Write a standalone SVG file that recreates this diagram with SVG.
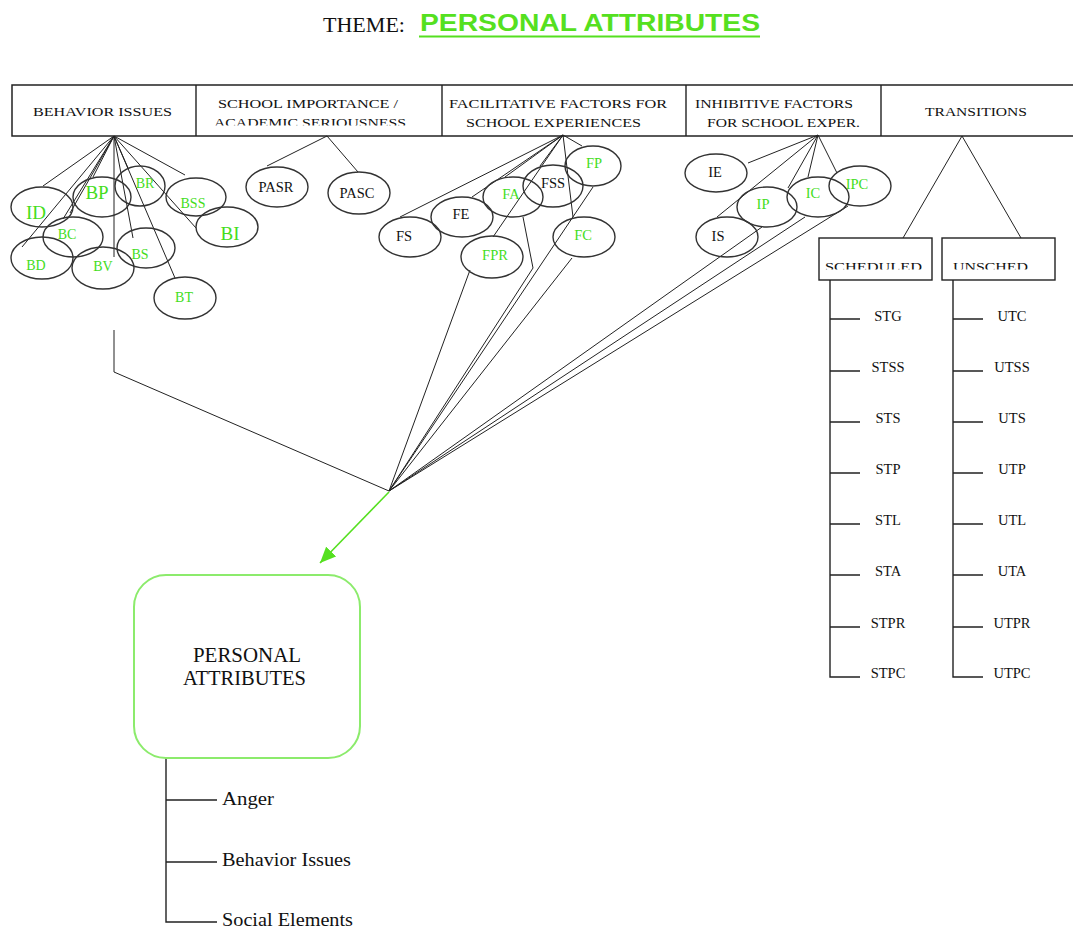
<svg xmlns="http://www.w3.org/2000/svg" width="1073" height="928" viewBox="0 0 1073 928">
<style>
.t{font-family:"Liberation Serif","Times New Roman",serif;fill:#111}
.h{font-size:13.5px}
.g{fill:#44dd1c}
.k{fill:#111}
.s{font-size:14.5px}
.m{font-size:14px}
.L{font-size:19px}
.e{fill:none;stroke:#333;stroke-width:1.4}
.ln{stroke:#222;stroke-width:1;fill:none}
.tr{stroke:#222;stroke-width:1.4;fill:none}
</style>
<defs>
<clipPath id="c1"><rect x="190" y="110" width="260" height="15.5"/></clipPath>
<clipPath id="c2"><rect x="815" y="250" width="250" height="19.5"/></clipPath>
<marker id="gb" viewBox="0 0 16 14" markerWidth="16" markerHeight="14" refX="16" refY="7" orient="auto" markerUnits="userSpaceOnUse"><path d="M0,0 L16,7 L0,14 z" fill="#55e020"/></marker>
</defs>
<rect width="1073" height="928" fill="#fff"/>

<g id="title">
<text class="t" x="323" y="32" font-size="20" textLength="82" lengthAdjust="spacingAndGlyphs">THEME:</text>
<text x="420" y="31" font-family="'Liberation Sans',Arial,sans-serif" font-weight="bold" font-size="24" fill="#55e020" textLength="340" lengthAdjust="spacingAndGlyphs">PERSONAL ATTRIBUTES</text>
<line x1="419" y1="36.5" x2="760" y2="36.5" stroke="#55e020" stroke-width="2"/>
</g>

<g id="header">
<rect x="12" y="85" width="1070" height="51" fill="none" stroke="#222" stroke-width="1.5"/>
<line x1="196" y1="85" x2="196" y2="136" class="tr"/>
<line x1="442" y1="85" x2="442" y2="136" class="tr"/>
<line x1="686" y1="85" x2="686" y2="136" class="tr"/>
<line x1="881" y1="85" x2="881" y2="136" class="tr"/>
<text class="t h" x="33" y="116" textLength="139" lengthAdjust="spacingAndGlyphs">BEHAVIOR ISSUES</text>
<text class="t h" x="218" y="108" textLength="180" lengthAdjust="spacingAndGlyphs">SCHOOL IMPORTANCE /</text>
<text class="t h" x="214" y="127" textLength="192" lengthAdjust="spacingAndGlyphs" clip-path="url(#c1)">ACADEMIC SERIOUSNESS</text>
<text class="t h" x="449" y="108" textLength="218" lengthAdjust="spacingAndGlyphs">FACILITATIVE FACTORS FOR</text>
<text class="t h" x="466" y="127" textLength="175" lengthAdjust="spacingAndGlyphs">SCHOOL EXPERIENCES</text>
<text class="t h" x="695" y="108" textLength="158" lengthAdjust="spacingAndGlyphs">INHIBITIVE FACTORS</text>
<text class="t h" x="707" y="127" textLength="153" lengthAdjust="spacingAndGlyphs">FOR SCHOOL EXPER.</text>
<text class="t h" x="925" y="116" textLength="102" lengthAdjust="spacingAndGlyphs">TRANSITIONS</text>
</g>

<g id="connectors">
<path class="ln" d="M114,136 L43,186 M114,136 L22,247 M114,136 L63,219 M114,136 L70,213 M114,136 L93,177 M114,136 L114,257 M114,136 L128,168 M114,136 L133,238 M114,136 L175,278 M114,136 L185,175 M114,136 L196,228"/>
<path class="ln" d="M327,136 L267,166 M327,136 L358,172"/>
<path class="ln" d="M563,135 L400,217 M563,135 L472,197 M563,135 L505,177 M563,135 L493,237 M563,135 L540,166 M563,135 L573,217 M563,135 L582,146"/>
<path class="ln" d="M818,135 L748,163 M818,135 L717,217 M818,135 L788,188 M818,135 L808,177 M818,135 L837,173"/>
<path class="ln" d="M962,136 L903,238 M962,136 L1021,238"/>
<path class="ln" d="M114,330 L114,372 L389,491"/>
<path class="ln" d="M470,270 L389,491 M523,217 L533,268 L389,491 M593,187 L389,491 M572,258 L389,491"/>
<path class="ln" d="M762,227 L389,491 M805,217 L389,491 M848,206 L389,491"/>
<line x1="389" y1="492" x2="320" y2="563" stroke="#55e020" stroke-width="1.6" marker-end="url(#gb)"/>
<path class="tr" d="M830,280 L830,677 L860,677 M830,319 L860,319 M830,371 L860,371 M830,422 L860,422 M830,473 L860,473 M830,524 L860,524 M830,575 L860,575 M830,627 L860,627"/>
<path class="tr" d="M953,280 L953,677 L983,677 M953,319 L983,319 M953,371 L983,371 M953,422 L983,422 M953,473 L983,473 M953,524 L983,524 M953,575 L983,575 M953,627 L983,627"/>
<path class="tr" d="M166,758 L166,922 L217,922 M166,800 L217,800 M166,862 L217,862"/>
</g>

<g id="behavior-nodes">
<g id="n-ID"><ellipse class="e" cx="42" cy="207" rx="31" ry="20"/><text class="t g L" x="36" y="219" text-anchor="middle">ID</text></g>
<g id="n-BP"><ellipse class="e" cx="102" cy="197" rx="29" ry="20"/><text class="t g L" x="97" y="199" text-anchor="middle">BP</text></g>
<g id="n-BR"><ellipse class="e" cx="140" cy="186" rx="25" ry="20"/><text class="t g m" x="145" y="188" text-anchor="middle">BR</text></g>
<g id="n-BSS"><ellipse class="e" cx="196" cy="197" rx="30" ry="19"/><text class="t g m" x="193" y="208" text-anchor="middle">BSS</text></g>
<g id="n-BI"><ellipse class="e" cx="227" cy="227" rx="31" ry="20"/><text class="t g L" x="230" y="240" text-anchor="middle">BI</text></g>
<g id="n-BC"><ellipse class="e" cx="73" cy="237" rx="30" ry="20"/><text class="t g m" x="67" y="239" text-anchor="middle">BC</text></g>
<g id="n-BD"><ellipse class="e" cx="42" cy="258" rx="31" ry="21"/><text class="t g m" x="36" y="270" text-anchor="middle">BD</text></g>
<g id="n-BV"><ellipse class="e" cx="103" cy="268" rx="31" ry="21"/><text class="t g m" x="103" y="271" text-anchor="middle">BV</text></g>
<g id="n-BS"><ellipse class="e" cx="146" cy="248" rx="29" ry="20"/><text class="t g m" x="140" y="259" text-anchor="middle">BS</text></g>
<g id="n-BT"><ellipse class="e" cx="185" cy="298" rx="31" ry="21"/><text class="t g m" x="184" y="302" text-anchor="middle">BT</text></g>
</g>

<g id="school-nodes">
<g id="n-PASR"><ellipse class="e" cx="277" cy="187" rx="31" ry="20"/><text class="t k s" x="276" y="192" text-anchor="middle">PASR</text></g>
<g id="n-PASC"><ellipse class="e" cx="359" cy="193" rx="31" ry="21"/><text class="t k s" x="357" y="198" text-anchor="middle">PASC</text></g>
</g>

<g id="facilitative-nodes">
<g id="n-FS"><ellipse class="e" cx="410" cy="237" rx="31" ry="20"/><text class="t k s" x="404" y="241" text-anchor="middle">FS</text></g>
<g id="n-FE"><ellipse class="e" cx="462" cy="217" rx="31" ry="20"/><text class="t k s" x="461" y="219" text-anchor="middle">FE</text></g>
<g id="n-FA"><ellipse class="e" cx="513" cy="197" rx="30" ry="20"/><text class="t g s" x="511" y="199" text-anchor="middle">FA</text></g>
<g id="n-FSS"><ellipse class="e" cx="553" cy="186" rx="30" ry="21"/><text class="t k s" x="553" y="188" text-anchor="middle">FSS</text></g>
<g id="n-FP"><ellipse class="e" cx="593" cy="166" rx="28" ry="20"/><text class="t g s" x="594" y="168" text-anchor="middle">FP</text></g>
<g id="n-FC"><ellipse class="e" cx="584" cy="237" rx="31" ry="20"/><text class="t g s" x="583" y="240" text-anchor="middle">FC</text></g>
<g id="n-FPR"><ellipse class="e" cx="492" cy="257" rx="31" ry="21"/><text class="t g s" x="495" y="260" text-anchor="middle">FPR</text></g>
</g>

<g id="inhibitive-nodes">
<g id="n-IE"><ellipse class="e" cx="716" cy="173" rx="31" ry="19"/><text class="t k s" x="715" y="177" text-anchor="middle">IE</text></g>
<g id="n-IP"><ellipse class="e" cx="767" cy="207" rx="30" ry="20"/><text class="t g s" x="763" y="209" text-anchor="middle">IP</text></g>
<g id="n-IC"><ellipse class="e" cx="818" cy="197" rx="31" ry="20"/><text class="t g s" x="813" y="198" text-anchor="middle">IC</text></g>
<g id="n-IPC"><ellipse class="e" cx="860" cy="186" rx="31" ry="20"/><text class="t g s" x="857" y="189" text-anchor="middle">IPC</text></g>
<g id="n-IS"><ellipse class="e" cx="727" cy="237" rx="31" ry="20"/><text class="t k s" x="718" y="241" text-anchor="middle">IS</text></g>
</g>

<g id="transition-nodes">
<g id="n-SCHEDULED"><rect x="819" y="238" width="113" height="42" fill="none" stroke="#222" stroke-width="1.4"/><text class="t h" x="825" y="271" textLength="97" lengthAdjust="spacingAndGlyphs" clip-path="url(#c2)">SCHEDULED</text></g>
<g id="n-UNSCHED"><rect x="942" y="238" width="113" height="42" fill="none" stroke="#222" stroke-width="1.4"/><text class="t h" x="953" y="271" textLength="75" lengthAdjust="spacingAndGlyphs" clip-path="url(#c2)">UNSCHED</text></g>
<g id="scheduled-items" class="t" font-size="14.5" text-anchor="middle">
<text x="888" y="321">STG</text><text x="888" y="372">STSS</text><text x="888" y="423">STS</text><text x="888" y="474">STP</text><text x="888" y="525">STL</text><text x="888" y="576">STA</text><text x="888" y="628">STPR</text><text x="888" y="678">STPC</text>
</g>
<g id="unscheduled-items" class="t" font-size="14.5" text-anchor="middle">
<text x="1012" y="321">UTC</text><text x="1012" y="372">UTSS</text><text x="1012" y="423">UTS</text><text x="1012" y="474">UTP</text><text x="1012" y="525">UTL</text><text x="1012" y="576">UTA</text><text x="1012" y="628">UTPR</text><text x="1012" y="678">UTPC</text>
</g>
</g>

<g id="personal-attributes">
<rect x="134" y="575" width="226" height="183" rx="32" ry="32" fill="none" stroke="#8ceb6c" stroke-width="2"/>
<text class="t" font-size="20" x="193" y="662" textLength="108" lengthAdjust="spacingAndGlyphs">PERSONAL</text>
<text class="t" font-size="20" x="183" y="685" textLength="123" lengthAdjust="spacingAndGlyphs">ATTRIBUTES</text>
<text class="t" font-size="19" x="222" y="805" textLength="52" lengthAdjust="spacingAndGlyphs">Anger</text>
<text class="t" font-size="19" x="222" y="866" textLength="129" lengthAdjust="spacingAndGlyphs">Behavior Issues</text>
<text class="t" font-size="19" x="222" y="926" textLength="131" lengthAdjust="spacingAndGlyphs">Social Elements</text>
</g>
</svg>
